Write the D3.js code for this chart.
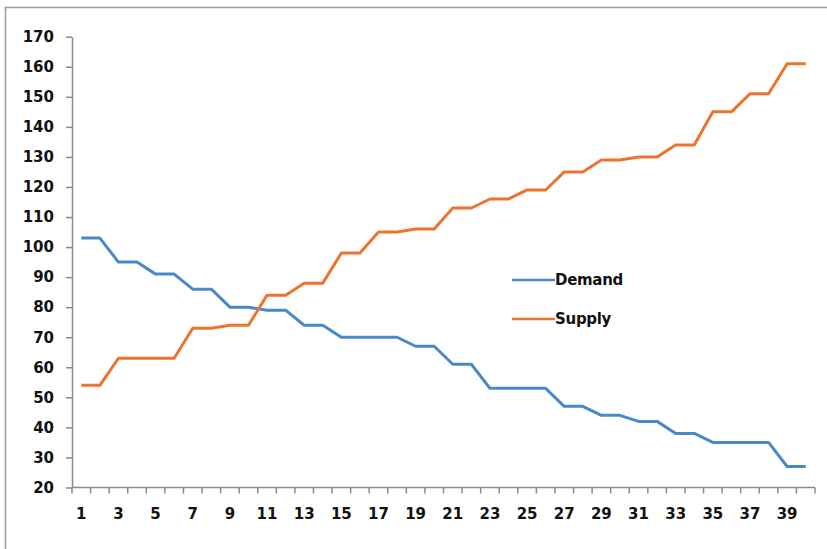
<!DOCTYPE html>
<html>
<head>
<meta charset="utf-8">
<script src="https://cdn.jsdelivr.net/npm/d3@7"></script>
<style>
  html, body { margin: 0; padding: 0; background: #fff; }
  svg { display: block; }
  text { font-family: "DejaVu Sans", Verdana, sans-serif; font-weight: bold; fill: #111; }
</style>
</head>
<body>
<svg id="chart" width="827" height="549"></svg>
<script>
const categories = d3.range(1, 41);
const demand = [103,103,95,95,91,91,86,86,80,80,79,79,74,74,70,70,70,70,67,67,
                61,61,53,53,53,53,47,47,44,44,42,42,38,38,35,35,35,35,27,27];
const supply = [54,54,63,63,63,63,73,73,74,74,84,84,88,88,98,98,105,105,106,106,
                113,113,116,116,119,119,125,125,129,129,130,130,134,134,145,145,151,151,161,161];
const yTicks = [20,30,40,50,60,70,80,90,100,110,120,130,140,150,160,170];
const seriesNames = ["Demand", "Supply"];
const colors = ["#4a89c8", "#ec7430"];

const svg = d3.select("#chart");

// outer frame (top and left edges)
svg.append("line").attr("x1", 5).attr("x2", 827).attr("y1", 7.5).attr("y2", 7.5)
  .attr("stroke", "#9a9a9a").attr("stroke-width", 1.5);
svg.append("line").attr("x1", 5.5).attr("x2", 5.5).attr("y1", 7).attr("y2", 549)
  .attr("stroke", "#9a9a9a").attr("stroke-width", 1.5);

const x = d3.scaleBand().domain(categories).range([72, 815]).paddingInner(0).paddingOuter(0);
const y = d3.scaleLinear().domain([20, 170]).range([487.5, 36.7]);

const axisColor = "#8a8a8a";

// y axis
const yAxis = svg.append("g").attr("transform", "translate(72,0)")
  .call(d3.axisLeft(y).tickValues(yTicks).tickSize(6).tickPadding(12).tickSizeOuter(0));
yAxis.select(".domain").attr("stroke", axisColor).attr("stroke-width", 1.5);
yAxis.selectAll(".tick line").attr("stroke", axisColor).attr("stroke-width", 1.5);
yAxis.selectAll("text").style("font-size", "15px").attr("fill", "#111");

// x axis with ticks between categories
const xAxisG = svg.append("g").attr("transform", `translate(0,${y(20)})`);
xAxisG.append("line").attr("x1", 72).attr("x2", 815).attr("y1", 0).attr("y2", 0)
  .attr("stroke", axisColor).attr("stroke-width", 1.5);
const boundaries = categories.map(c => x(c)).concat([x(40) + x.bandwidth()]);
xAxisG.selectAll("line.tk").data(boundaries).enter().append("line")
  .attr("class", "tk")
  .attr("x1", d => d).attr("x2", d => d).attr("y1", 0).attr("y2", 6)
  .attr("stroke", axisColor).attr("stroke-width", 1.5);
xAxisG.selectAll("text").data(categories.filter(c => c % 2 === 1)).enter().append("text")
  .attr("x", d => x(d) + x.bandwidth() / 2)
  .attr("y", 21).attr("dy", "0.71em")
  .attr("text-anchor", "middle")
  .style("font-size", "15px")
  .text(d => d);

// lines
const line = d3.line()
  .x((d, i) => x(categories[i]) + x.bandwidth() / 2)
  .y(d => y(d));

[demand, supply].forEach((s, i) => {
  svg.append("path").datum(s)
    .attr("fill", "none")
    .attr("stroke", colors[i])
    .attr("stroke-width", 3)
    .attr("stroke-linejoin", "round")
    .attr("d", line);
});

// legend
const legendY = [280, 319];
seriesNames.forEach((name, i) => {
  svg.append("line")
    .attr("x1", 512).attr("x2", 555)
    .attr("y1", legendY[i]).attr("y2", legendY[i])
    .attr("stroke", colors[i]).attr("stroke-width", 2.5);
  svg.append("text")
    .attr("x", 555).attr("y", legendY[i]).attr("dy", "0.35em")
    .style("font-size", "15px")
    .style("letter-spacing", "-0.3px")
    .text(name);
});
</script>
</body>
</html>
